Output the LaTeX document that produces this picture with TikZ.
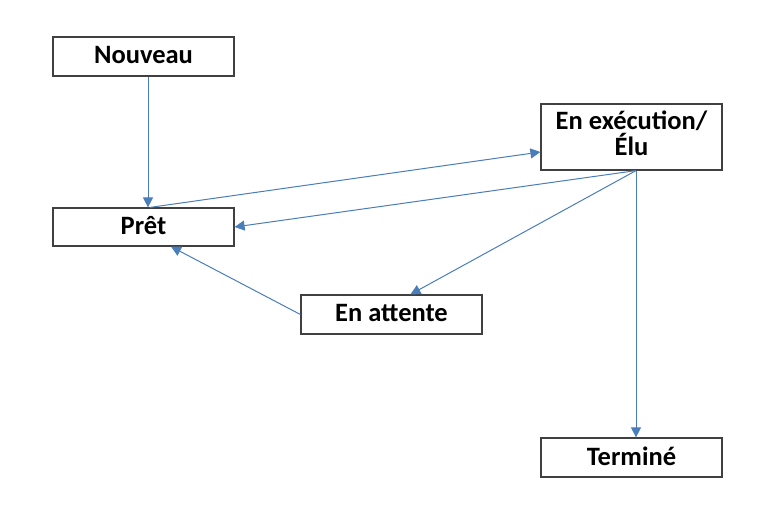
\documentclass[tikz,border=0pt]{standalone}
\usepackage{fontspec}
\setmainfont{Carlito}
\usetikzlibrary{arrows.meta,calc}
\definecolor{arr}{HTML}{4A7EBB}
\definecolor{bord}{HTML}{404040}
\tikzset{
  box/.style={draw=bord, line width=1.2pt, fill=white, minimum width=181pt, inner sep=0pt, align=center, font=\bfseries\fontsize{26.5}{27}\selectfont, text=black},
  conn/.style={draw=arr, line width=1pt, -{Triangle[length=10pt,width=10pt]}}
}
\begin{document}
\begin{tikzpicture}[x=1pt,y=-1pt]
\useasboundingbox (0,0) rectangle (781,521);
\node[box, minimum height=39pt] (nouveau) at (143.5,56.5) {\raisebox{3pt}{Nouveau}};
\node[box, minimum height=66pt] (exec) at (631.5,137) {\raisebox{3pt}{\begin{tabular}{@{}c@{}}En exécution/\\[-5pt]Élu\end{tabular}}};
\node[box, minimum height=38pt] (pret) at (143.5,227) {\raisebox{3pt}{Prêt}};
\node[box, minimum height=39pt] (attente) at (391.5,314.5) {\raisebox{3pt}{En attente}};
\node[box, minimum height=39pt] (termine) at (631.5,457.5) {\raisebox{3pt}{Terminé}};
\coordinate (eb) at ([xshift=4.5pt]exec.south);
\draw[conn] ([xshift=4.5pt]nouveau.south) -- ([xshift=4.5pt]pret.north);
\draw[conn] ([xshift=6.5pt]pret.north) -- ([yshift=-15pt]exec.west);
\draw[conn] (eb) -- (pret.east);
\draw[conn] (eb) -- ([xshift=19pt]attente.north);
\draw[conn] (attente.west) -- ([xshift=27.5pt]pret.south);
\draw[conn] (eb) -- ([xshift=4.5pt]termine.north);
\end{tikzpicture}
\end{document}
